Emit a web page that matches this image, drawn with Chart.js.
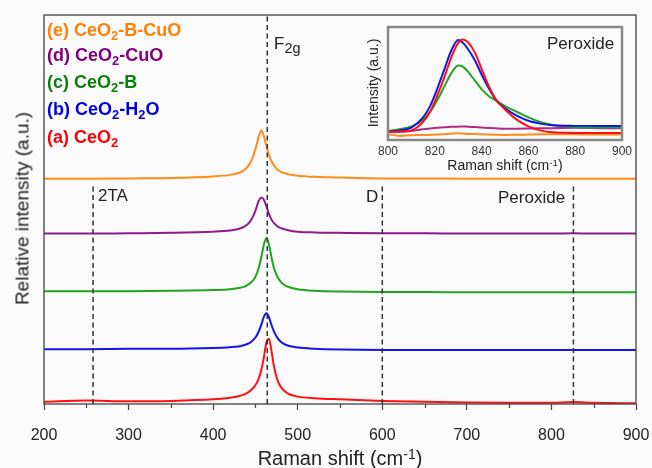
<!DOCTYPE html>
<html>
<head>
<meta charset="utf-8">
<script src="https://cdn.jsdelivr.net/npm/chart.js@4.4.0/dist/chart.umd.min.js"></script>
<style>
  body { margin: 0; background: #fafafa; }
  #wrap { position: relative; width: 652px; height: 468px; font-family: 'Liberation Sans', Arial, sans-serif; color: #222; }
  canvas { position: absolute; left: 0; top: 0; }
  .lbl { position: absolute; white-space: nowrap; line-height: 1; }
  .leg { font-weight: bold; font-size: 18px; }
  sub { font-size: 0.72em; vertical-align: -0.3em; line-height: 0; }
  sup { font-size: 0.7em; vertical-align: 0.45em; line-height: 0; }
</style>
</head>
<body>
<div id="wrap">
  <canvas id="main" width="652" height="468"></canvas>
  <canvas id="inset" width="283" height="165" style="left:355px; top:15px;"></canvas>

  <div class="lbl leg" style="left:47px; top:21px; color:#ff8000;">(e) CeO<sub>2</sub>-B-CuO</div>
  <div class="lbl leg" style="left:47px; top:46px; color:#800080;">(d) CeO<sub>2</sub>-CuO</div>
  <div class="lbl leg" style="left:47px; top:73px; color:#0a800a;">(c) CeO<sub>2</sub>-B</div>
  <div class="lbl leg" style="left:47px; top:100px; color:#0000e0;">(b) CeO<sub>2</sub>-H<sub>2</sub>O</div>
  <div class="lbl leg" style="left:47px; top:128px; color:#ff0000;">(a) CeO<sub>2</sub></div>

  <div class="lbl" style="left:274px; top:35px; font-size:17px;">F<sub style="font-size:0.85em">2g</sub></div>
  <div class="lbl" style="left:98px; top:187px; font-size:17px;">2TA</div>
  <div class="lbl" style="left:366px; top:188px; font-size:17px;">D</div>
  <div class="lbl" style="left:498px; top:189px; font-size:17px;">Peroxide</div>

  <div class="lbl" style="left:44px; width:592px; top:448px; font-size:20px; text-align:center;">Raman shift (cm<sup>-1</sup>)</div>
  <div class="lbl" style="left:-128px; top:199px; width:300px; font-size:19px; text-align:center; transform:rotate(-90deg);">Relative intensity (a.u.)</div>

  <div class="lbl" style="left:547px; top:35px; font-size:17px;">Peroxide</div>
  <div class="lbl" style="left:430px; width:150px; top:158px; font-size:14px; text-align:center;">Raman shift (cm<sup>-1</sup>)</div>
  <div class="lbl" style="left:298px; top:76px; width:150px; font-size:14px; text-align:center; transform:rotate(-90deg);">Intensity (a.u.)</div>
</div>

<script>
'use strict';

// main spectra, offset for stacking
const wavenumbers = [200, 250, 300, 350, 400, 420, 430, 436, 440, 444, 448, 451, 454, 457, 460, 463, 466, 469, 472, 476, 480, 485, 490, 500, 520, 550, 600, 650, 700, 750, 800, 825, 850, 900];
const ceo2 =       [0.6, 0.9, 0.7, 0.8, 1.2, 1.6, 2.0, 2.4, 2.8, 3.4, 4.3, 5.2, 6.6, 8.8, 12.0, 15.8, 16.8, 13.6, 9.6, 6.2, 4.4, 3.2, 2.5, 1.9, 1.5, 1.2, 0.8, 0.6, 0.4, 0.3, 0.3, 0.5, 0.3, 0.2];
const ceo2H2O =    [14.1, 14.1, 14.2, 14.2, 14.4, 14.6, 14.8, 15.1, 15.4, 15.8, 16.6, 17.4, 18.7, 20.4, 22.4, 23.3, 22.3, 20.3, 18.6, 17.0, 16.0, 15.3, 14.9, 14.5, 14.2, 14.0, 13.9, 13.9, 13.9, 13.9, 13.9, 13.9, 13.9, 13.9];
const ceo2B =      [29.0, 29.0, 29.0, 29.1, 29.3, 29.5, 29.8, 30.1, 30.5, 31.1, 32.0, 33.2, 35.0, 37.8, 41.0, 42.7, 41.0, 37.7, 34.9, 32.7, 31.4, 30.5, 30.0, 29.5, 29.1, 28.9, 28.8, 28.8, 28.7, 28.7, 28.7, 28.7, 28.7, 28.7];
const ceo2CuO =    [43.8, 43.8, 43.9, 44.0, 44.3, 44.6, 45.0, 45.5, 46.1, 47.0, 48.6, 50.3, 52.3, 53.1, 52.5, 50.8, 48.9, 47.4, 46.5, 45.7, 45.2, 44.9, 44.6, 44.3, 44.1, 44.0, 43.9, 43.9, 43.8, 43.8, 43.8, 43.9, 43.8, 43.8];
const ceo2BCuO =   [57.9, 57.9, 58.0, 58.1, 58.5, 58.9, 59.4, 60.0, 60.8, 62.0, 64.1, 66.3, 68.8, 70.3, 68.8, 66.3, 64.1, 62.4, 61.3, 60.3, 59.7, 59.3, 59.0, 58.7, 58.4, 58.2, 58.0, 58.0, 57.9, 57.9, 57.9, 57.9, 57.9, 57.9];

const bandNames = ['2TA', 'F2g', 'D', 'Peroxide'];
const bandPositions = [258, 464, 600, 826];
const bandTops = [56.5, 100, 56.5, 56.5];

// inset: peroxide region
const insetShift = [800, 805, 810, 815, 818, 821, 824, 827, 830, 832, 834, 837, 840, 843, 846, 850, 855, 860, 865, 870, 880, 890, 900];
const insetCeo2 =     [7.3, 7.4, 8.5, 16, 25, 39, 55, 73, 86, 89, 87, 78, 63, 48, 36, 27, 18, 12, 8.5, 6.8, 6.3, 6.3, 6.2];
const insetCeo2H2O =  [7.3, 8.5, 11, 20, 30, 45, 62, 79, 88.5, 86, 81, 71, 58, 46, 36, 28, 21.5, 17, 14.5, 13, 12.5, 12.4, 12.4];
const insetCeo2B =    [8, 9.5, 12, 18, 25, 35, 47, 59, 66, 65, 61, 53, 45, 39, 35, 30, 25, 20, 16, 13.5, 11.5, 11, 11];
const insetCeo2CuO =  [7, 7.5, 8, 9.5, 10.2, 10.8, 11.3, 11.7, 11.8, 12, 11.8, 11.4, 11, 10.6, 10.3, 10, 10, 10.2, 10.4, 10.5, 10.8, 10.5, 10.3];
const insetCeo2BCuO = [5.2, 3.6, 4.2, 4.4, 4.6, 4.8, 5.2, 5.6, 5.9, 5.7, 5.4, 5.2, 5.0, 4.8, 4.6, 4.5, 4.6, 4.8, 5.0, 5.1, 5.0, 4.9, 5.0];

const font = "'Liberation Sans', Arial, sans-serif";

function toPoints(xs, ys) {
  return xs.map((x, i) => ({x: x, y: ys[i]}));
}

function spectrum(xs, ys, color) {
  return {
    data: toPoints(xs, ys),
    borderColor: color,
    borderWidth: 2,
    pointRadius: 0,
    cubicInterpolationMode: 'monotone',
    order: 1
  };
}

const framePlugin = {
  id: 'frame',
  afterDraw(chart, args, opts) {
    const ctx = chart.ctx;
    const a = chart.chartArea;
    ctx.save();
    ctx.strokeStyle = opts.color;
    ctx.lineWidth = opts.width;
    ctx.strokeRect(a.left, a.top, a.right - a.left, a.bottom - a.top);
    if (opts.minor) {
      const xs = chart.scales.x;
      ctx.lineWidth = 1.2;
      ctx.beginPath();
      for (let v = xs.min + 50; v < xs.max; v += 100) {
        const px = Math.round(xs.getPixelForValue(v)) + 0.5;
        ctx.moveTo(px, a.bottom);
        ctx.lineTo(px, a.bottom + opts.minor);
      }
      ctx.stroke();
    }
    ctx.restore();
  }
};

const bandLines = bandPositions.map((pos, i) => ({
  data: [{x: pos, y: 0}, {x: pos, y: bandTops[i]}],
  borderColor: '#333',
  borderWidth: 1.5,
  borderDash: [5, 3.5],
  pointRadius: 0,
  order: 0
}));

new Chart(document.getElementById('main').getContext('2d'), {
  type: 'line',
  data: {
    datasets: [
      spectrum(wavenumbers, ceo2, '#ff1010'),
      spectrum(wavenumbers, ceo2H2O, '#1515e6'),
      spectrum(wavenumbers, ceo2B, '#1fa51f'),
      spectrum(wavenumbers, ceo2CuO, '#8b1c8b'),
      spectrum(wavenumbers, ceo2BCuO, '#ff8c1a')
    ].concat(bandLines)
  },
  options: {
    responsive: false,
    animation: false,
    layout: {padding: {top: 15, right: 16, left: 0, bottom: 0}},
    plugins: {
      legend: {display: false},
      tooltip: {enabled: false},
      frame: {color: '#444', width: 1.3, minor: 4}
    },
    scales: {
      x: {
        type: 'linear',
        min: 200,
        max: 900,
        ticks: {stepSize: 100, color: '#222', font: {family: font, size: 16}, padding: 16},
        grid: {drawOnChartArea: false, tickLength: 6, tickColor: '#444', tickWidth: 1.2},
        border: {display: false},
        afterFit: s => { s.height = 64; s.paddingLeft = 0; s.paddingRight = 0; }
      },
      y: {
        min: 0,
        max: 100,
        ticks: {display: false},
        grid: {display: false},
        border: {display: false},
        afterFit: s => { s.width = 44; }
      }
    }
  },
  plugins: [framePlugin]
});

function insetLine(ys, color) {
  return {
    data: toPoints(insetShift, ys),
    borderColor: color,
    borderWidth: 2,
    pointRadius: 0,
    cubicInterpolationMode: 'monotone'
  };
}

new Chart(document.getElementById('inset').getContext('2d'), {
  type: 'line',
  data: {
    datasets: [
      insetLine(insetCeo2, '#ff1010'),
      insetLine(insetCeo2H2O, '#1515e6'),
      insetLine(insetCeo2B, '#1fa51f'),
      insetLine(insetCeo2CuO, '#b02a8c'),
      insetLine(insetCeo2BCuO, '#ff8c1a')
    ]
  },
  options: {
    responsive: false,
    animation: false,
    layout: {padding: {top: 12, right: 16, left: 0, bottom: 0}},
    plugins: {
      legend: {display: false},
      tooltip: {enabled: false},
      frame: {color: '#888', width: 2.5}
    },
    scales: {
      x: {
        type: 'linear',
        min: 800,
        max: 900,
        ticks: {stepSize: 20, color: '#333', font: {family: font, size: 12}, padding: 4},
        grid: {display: false, tickLength: 0},
        border: {display: false},
        afterFit: s => { s.height = 40; }
      },
      y: {
        min: 0,
        max: 100,
        ticks: {display: false},
        grid: {display: false},
        border: {display: false},
        afterFit: s => { s.width = 33; }
      }
    }
  },
  plugins: [framePlugin]
});
</script>
</body>
</html>
